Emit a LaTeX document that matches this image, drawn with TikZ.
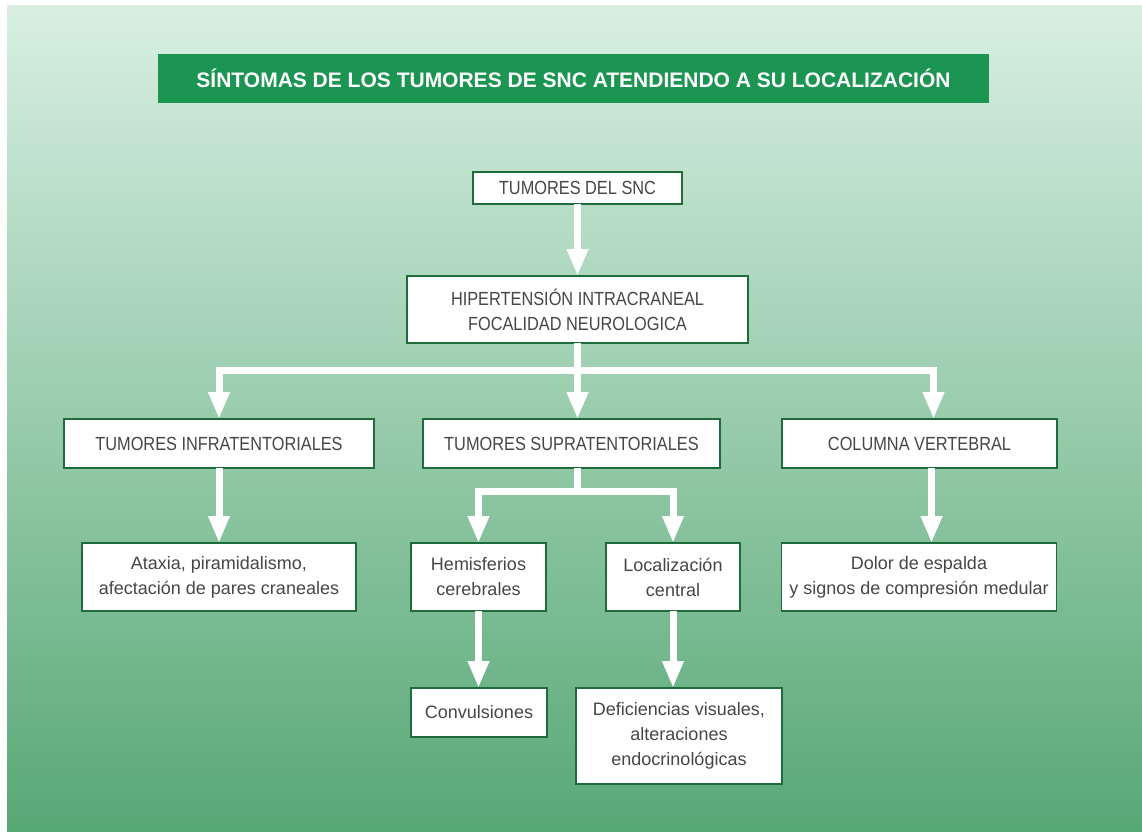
\documentclass[tikz,border=0pt]{standalone}
\usepackage{fontspec}
\setmainfont{Liberation Sans}
\newfontfamily\capsfont{Liberation Sans}[FakeStretch=0.86]
\usepackage{tikz}
\usetikzlibrary{arrows.meta,calc}

\definecolor{fondoalto}{RGB}{216,239,226}
\definecolor{fondomedio}{RGB}{143,197,161}
\definecolor{fondobajo}{RGB}{88,168,118}
\definecolor{verdetitulo}{RGB}{28,148,82}
\definecolor{bordecaja}{RGB}{30,108,60}
\definecolor{textocaja}{RGB}{70,70,70}

\tikzset{
  caja/.style={draw=bordecaja, line width=1.4pt, fill=white, inner sep=0pt, outer sep=0pt,
    align=center, text=textocaja},
  mayus/.style={caja, font=\capsfont\fontsize{19}{25}\selectfont},
  minus/.style={caja, font=\fontsize{18}{25}\selectfont},
  linea/.style={white, line width=7pt},
  flecha/.style={linea, -{Triangle[width=20pt,length=27pt]}}
}

\begin{document}
\begin{tikzpicture}[x=1pt,y=-1pt]
            \useasboundingbox (0,0) rectangle (1142,831);
            \fill[white] (0,0) rectangle (1142,831);
            \shade[top color=fondoalto, middle color=fondomedio, bottom color=fondobajo] (7,5) rectangle (1142,831);
            \node[fill=verdetitulo, minimum width=831pt, minimum height=49pt, inner sep=0pt, text=white,
              font=\bfseries\fontsize{21}{25}\selectfont] (titulo) at (573.5,78.5)
              {SÍNTOMAS DE LOS TUMORES DE SNC ATENDIENDO A SU LOCALIZACIÓN};
            \node[mayus, minimum width=209pt, minimum height=32pt] (snc) at (577.5,188) {TUMORES DEL SNC};
            \node[mayus, minimum width=341pt, minimum height=67pt] (hiper) at (577.5,309.5)
              {HIPERTENSIÓN INTRACRANEAL\\FOCALIDAD NEUROLOGICA};
            \node[mayus, minimum width=310pt, minimum height=49pt] (infra) at (219,443.5) {TUMORES INFRATENTORIALES};
            \node[mayus, minimum width=297pt, minimum height=49pt] (supra) at (571.5,443.5) {TUMORES SUPRATENTORIALES};
            \node[mayus, minimum width=275pt, minimum height=49pt] (columna) at (919.5,443.5) {COLUMNA VERTEBRAL};
            \node[minus, minimum width=274pt, minimum height=68pt] (ataxia) at (219,577)
              {Ataxia, piramidalismo,\\afectación de pares craneales};
            \node[minus, minimum width=135pt, minimum height=68pt] (hemis) at (478.5,577) {Hemisferios\\cerebrales};
            \node[minus, minimum width=134pt, minimum height=68pt] (local) at (673,577) {Localización\\central};
            \node[minus, minimum width=275pt, minimum height=68pt] (dolor) at (919,577)
              {Dolor de espalda\\y signos de compresión medular};
            \node[minus, minimum width=136pt, minimum height=49pt] (convul) at (479,712.5) {Convulsiones};
            \node[minus, minimum width=206pt, minimum height=96pt] (defic) at (679,736)
              {Deficiencias visuales,\\alteraciones\\endocrinológicas};
            \coordinate (reparto) at ($(hiper.south)+(0,27)$);
            \coordinate (reparto2) at ($(supra.south -| reparto)+(0,23)$);
            \coordinate (colarriba) at ($(columna.north)+(14,0)$);
            \coordinate (colabajo) at ($(columna.south)+(12,0)$);
            \draw[flecha] (snc) -- (hiper);
            \draw[linea] (hiper.south) -- (reparto);
            \draw[flecha] (reparto) -| (infra.north);
            \draw[flecha] (reparto) -- (reparto |- supra.north);
            \draw[flecha] (reparto) -| (colarriba);
            \draw[flecha] (infra) -- (ataxia);
            \draw[linea] (supra.south -| reparto) -- (reparto2);
            \draw[flecha] (reparto2) -| (hemis.north);
            \draw[flecha] (reparto2) -| (local.north);
            \draw[flecha] (colabajo) -- (colabajo |- dolor.north);
            \draw[flecha] (hemis.south) -- (hemis.south |- convul.north);
            \draw[flecha] (local.south) -- (local.south |- defic.north);
          \end{tikzpicture}
\end{document}
